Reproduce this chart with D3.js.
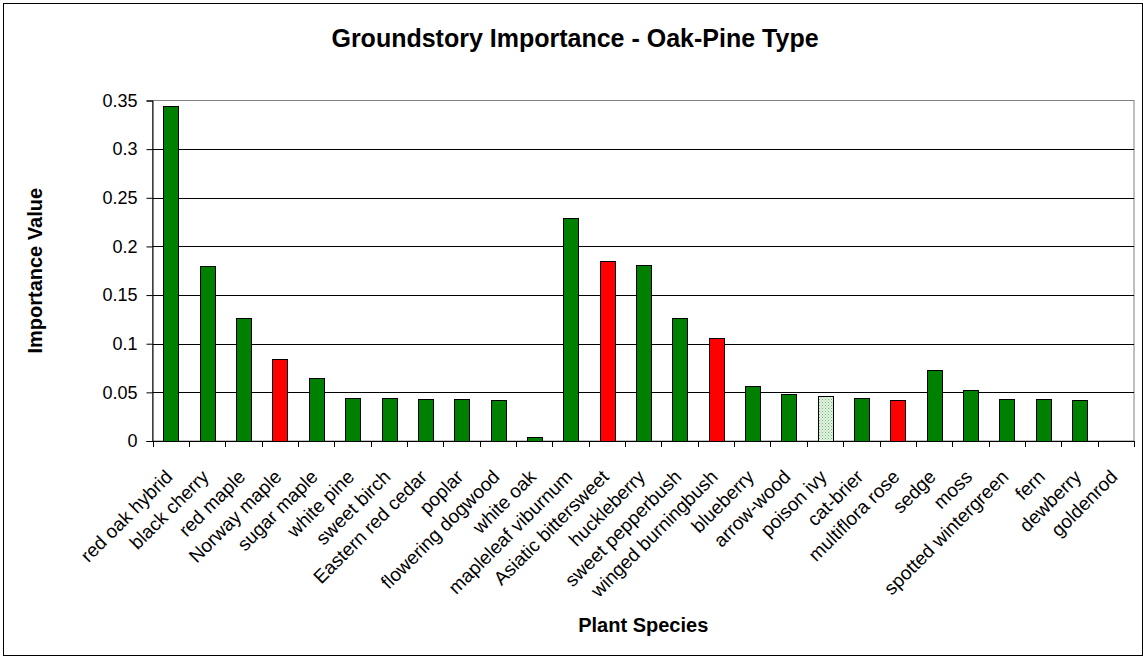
<!DOCTYPE html>
<html><head><meta charset="utf-8">
<script src="https://cdn.jsdelivr.net/npm/d3@7"></script>
<style>body{margin:0;background:#fff;} text{font-family:"Liberation Sans",Arial,sans-serif;}</style>
</head><body>
<svg id="c" width="1143" height="657"></svg>
<script>
const categories = ["red oak hybrid","black cherry","red maple","Norway maple","sugar maple","white pine","sweet birch","Eastern red cedar","poplar","flowering dogwood","white oak","mapleleaf viburnum","Asiatic bittersweet","huckleberry","sweet pepperbush","winged burningbush","blueberry","arrow-wood","poison ivy","cat-brier","multiflora rose","sedge","moss","spotted wintergreen","fern","dewberry","goldenrod"];
const values = [0.344,0.180,0.126,0.084,0.065,0.044,0.044,0.043,0.043,0.042,0.004,0.229,0.185,0.181,0.126,0.106,0.057,0.048,0.046,0.044,0.042,0.073,0.052,0.043,0.043,0.042,0];
const kinds = ["native","native","native","invasive","native","native","native","native","native","native","native","native","invasive","native","native","invasive","native","native","poison","native","invasive","native","native","native","native","native","native"];
const yTicks = [0,0.05,0.1,0.15,0.2,0.25,0.3,0.35];

const svg = d3.select("#c");
const m = {l:152.5, r:1134, t:100.5, b:441};
const x = d3.scaleBand().domain(categories).range([m.l, m.r]).paddingInner(0.6).paddingOuter(0.3);
const y = d3.scaleLinear().domain([0,0.35]).range([m.b, m.t]);

const defs = svg.append("defs");
const pat = defs.append("pattern").attr("id","dots").attr("width",3).attr("height",3).attr("patternUnits","userSpaceOnUse");
pat.append("rect").attr("width",3).attr("height",3).attr("fill","#e4f2e4");
pat.append("rect").attr("x",0).attr("y",0).attr("width",1).attr("height",1).attr("fill","#6fb86f");
pat.append("rect").attr("x",1.5).attr("y",1.5).attr("width",1).attr("height",1).attr("fill","#8cc88c");

// outer border
svg.append("rect").attr("x",3.5).attr("y",3.5).attr("width",1139).attr("height",652).attr("fill","#fff").attr("stroke","#000").attr("stroke-width",1);

// plot border
svg.append("rect").attr("x",m.l).attr("y",m.t).attr("width",m.r-m.l).attr("height",m.b-m.t).attr("fill","none").attr("stroke","#808080");

// gridlines
svg.append("g").selectAll("line").data(yTicks.filter(d=>d>0 && d<0.35)).join("line")
  .attr("x1",m.l).attr("x2",m.r).attr("y1",d=>Math.round(y(d))+0.5).attr("y2",d=>Math.round(y(d))+0.5)
  .attr("stroke","#000");

const colorOf = k => k==="invasive" ? "#ff0000" : (k==="poison" ? "url(#dots)" : "#008000");
svg.append("g").selectAll("rect").data(categories).join("rect")
  .attr("x",(d)=>Math.round(x(d))+0.5)
  .attr("y",(d,i)=>Math.round(y(values[i]))+0.5)
  .attr("width",Math.round(x.bandwidth()))
  .attr("height",(d,i)=>Math.max(0,Math.round(y(0))-Math.round(y(values[i]))))
  .attr("fill",(d,i)=>colorOf(kinds[i]))
  .attr("stroke",(d,i)=>values[i]>0?"#000":"none").attr("stroke-width",1);

// y axis
const yAxis = d3.axisLeft(y).tickValues(yTicks).tickFormat(d=>String(d)).tickSizeOuter(0).tickSize(6).tickPadding(9);
const gy = svg.append("g").attr("transform",`translate(${m.l},0)`).call(yAxis);
gy.select(".domain").attr("stroke","#000");
gy.selectAll("text").attr("font-size",18).attr("fill","#000").style("font-family","Liberation Sans, Arial, sans-serif");

// x axis: ticks between categories
const gx = svg.append("g");
gx.append("line").attr("x1",m.l).attr("x2",m.r).attr("y1",m.b+0.5).attr("y2",m.b+0.5).attr("stroke","#000");
gx.selectAll("line.t").data(d3.range(categories.length+1)).join("line").attr("class","t")
  .attr("x1",i=>Math.round(m.l+i*(m.r-m.l)/categories.length)+0.5)
  .attr("x2",i=>Math.round(m.l+i*(m.r-m.l)/categories.length)+0.5)
  .attr("y1",m.b).attr("y2",m.b+6).attr("stroke","#000");
gx.selectAll("text").data(categories).join("text")
  .attr("transform",d=>`translate(${x(d)+x.bandwidth()/2+3},${m.b+37}) rotate(-45)`)
  .attr("text-anchor","end").attr("font-size",19).attr("fill","#000").text(d=>d);

// titles
svg.append("text").attr("x",575).attr("y",47).attr("text-anchor","middle").attr("font-size",25).attr("font-weight","bold").text("Groundstory Importance - Oak-Pine Type");
svg.append("text").attr("x",(m.l+m.r)/2).attr("y",632).attr("text-anchor","middle").attr("font-size",20).attr("font-weight","bold").text("Plant Species");
svg.append("text").attr("transform",`translate(42,${(m.t+m.b)/2}) rotate(-90)`).attr("text-anchor","middle").attr("font-size",20).attr("font-weight","bold").text("Importance Value");
</script>
</body></html>
